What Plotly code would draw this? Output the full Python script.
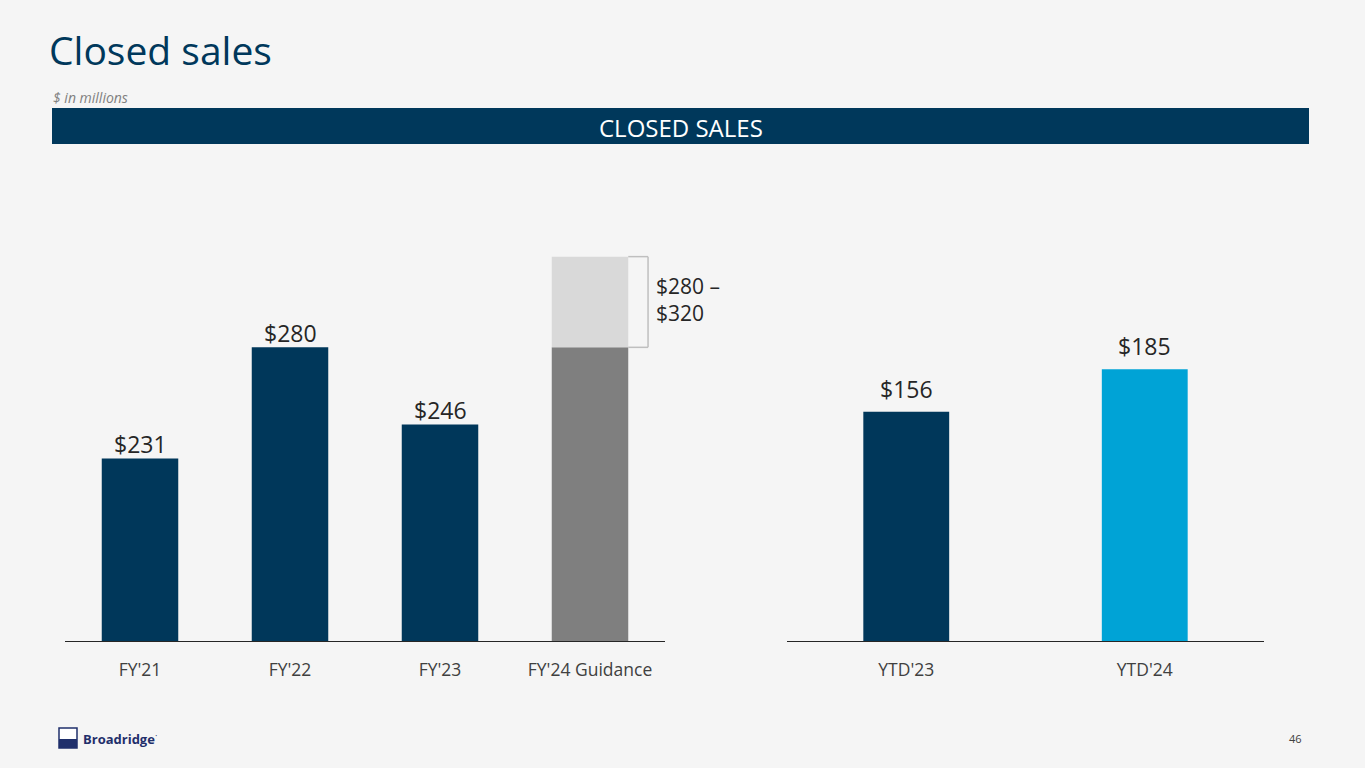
import plotly.graph_objects as go

# ---- data ----
fy_categories = ["FY'21", "FY'22", "FY'23", "FY'24 Guidance"]
fy_actuals = [231, 280, 246, None]
fy_actual_labels = ["$231", "$280", "$246", ""]
guidance_low = 280
guidance_high = 320
guidance_label = "$280 –<br>$320"

ytd_categories = ["YTD'23", "YTD'24"]
ytd_values = [156, 185]
ytd_labels = ["$156", "$185"]

# ---- style ----
W, H = 1365, 768
BG = "#F5F5F5"
NAVY = "#00375A"
CYAN = "#00A3D6"
GRAY = "#7F7F7F"
LIGHT = "#D9D9D9"
TXT = "#262626"
FONT = "Open Sans"

def px(xp):
    return xp / W

def py(yp):
    return 1 - yp / H

fig = go.Figure()

# Left chart: actuals
fig.add_trace(go.Bar(
    x=fy_categories, y=fy_actuals, width=0.51,
    marker=dict(color=NAVY, line=dict(width=0)),
    xaxis="x", yaxis="y", hoverinfo="skip",
))
# Guidance low part
fig.add_trace(go.Bar(
    x=[fy_categories[3]], y=[guidance_low], width=0.51,
    marker=dict(color=GRAY, line=dict(width=0)),
    xaxis="x", yaxis="y", hoverinfo="skip",
))
# Guidance range
fig.add_trace(go.Bar(
    x=[fy_categories[3]], y=[guidance_high - guidance_low], base=[guidance_low], width=0.51,
    marker=dict(color=LIGHT, line=dict(width=0)),
    xaxis="x", yaxis="y", hoverinfo="skip",
))

# Right chart: YTD
fig.add_trace(go.Bar(
    x=ytd_categories, y=ytd_values, width=0.36,
    marker=dict(color=[NAVY, CYAN], line=dict(width=0)),
    xaxis="x2", yaxis="y2", hoverinfo="skip",
))

y_dom = [py(641), py(170)]

fig.update_layout(
    width=W, height=H,
    paper_bgcolor=BG, plot_bgcolor=BG,
    margin=dict(l=0, r=0, t=0, b=0),
    barmode="overlay",
    showlegend=False,
    font=dict(family=FONT, color=TXT),
    xaxis=dict(domain=[px(65), px(665)], range=[-0.5, 3.5], showgrid=False, zeroline=False,
               showline=True, linecolor="#262626", linewidth=1,
               tickfont=dict(family=FONT, size=17.5, color="#404040"),
               ticks="", ticklabelstandoff=13, fixedrange=True),
    yaxis=dict(domain=y_dom, range=[150.5, 358.2], visible=False, fixedrange=True),
    xaxis2=dict(domain=[px(787), px(1264)], range=[-0.5, 1.5], showgrid=False, zeroline=False,
                showline=True, linecolor="#262626", linewidth=1,
                tickfont=dict(family=FONT, size=17.5, color="#404040"),
                ticks="", ticklabelstandoff=13, fixedrange=True, anchor="y2"),
    yaxis2=dict(domain=y_dom, range=[0, 320.6], visible=False, fixedrange=True, anchor="x2"),
)

shapes = []
# Banner
shapes.append(dict(type="rect", xref="paper", yref="paper",
                   x0=px(52), x1=px(1309), y0=py(144), y1=py(108),
                   fillcolor="#00385B", line=dict(width=0), layer="below"))
# Bracket around guidance range
bx0, bx1 = 3.255, 3.387
for (a, b, c, d) in [(bx0, guidance_high, bx1, guidance_high),
                     (bx1, guidance_high, bx1, guidance_low),
                     (bx0, guidance_low, bx1, guidance_low)]:
    shapes.append(dict(type="line", xref="x", yref="y", x0=a, y0=b, x1=c, y1=d,
                       line=dict(color="#BFBFBF", width=1.5)))
# Logo icon
shapes.append(dict(type="rect", xref="paper", yref="paper",
                   x0=px(59), x1=px(77), y0=py(748), y1=py(728),
                   fillcolor="white", line=dict(color="#1F2F6B", width=1.5)))
shapes.append(dict(type="rect", xref="paper", yref="paper",
                   x0=px(59), x1=px(77), y0=py(748), y1=py(739),
                   fillcolor="#1F2F6B", line=dict(width=0)))
fig.update_layout(shapes=shapes)

annotations = [
    dict(text="Closed sales", xref="paper", yref="paper", x=px(47), y=py(50),
         xanchor="left", yanchor="middle", showarrow=False,
         font=dict(family=FONT, size=39, color="#00385B")),
    dict(text="<i>$ in millions</i>", xref="paper", yref="paper", x=px(51), y=py(98),
         xanchor="left", yanchor="middle", showarrow=False,
         font=dict(family=FONT, size=14, color="#7F7F7F")),
    dict(text="CLOSED SALES", xref="paper", yref="paper", x=px(681), y=py(127),
         xanchor="center", yanchor="middle", showarrow=False,
         font=dict(family=FONT, size=24, color="white")),
    dict(text=guidance_label, xref="x", yref="y", x=bx1, y=(guidance_low + guidance_high) / 2,
         xanchor="left", yanchor="middle", xshift=6, yshift=2, showarrow=False, align="left",
         font=dict(family=FONT, size=21, color=TXT)),
    dict(text="<b>Broadridge</b><sup>·</sup>", xref="paper", yref="paper", x=px(81), y=py(738),
         xanchor="left", yanchor="middle", showarrow=False,
         font=dict(family=FONT, size=13, color="#1F2F6B")),
    dict(text="46", xref="paper", yref="paper", x=px(1304), y=py(738),
         xanchor="right", yanchor="middle", showarrow=False,
         font=dict(family=FONT, size=11, color="#404040")),
]
# Value labels on top of bars
for cat, val, lab in zip(fy_categories, fy_actuals, fy_actual_labels):
    if val is not None and lab:
        annotations.append(dict(text=lab, xref="x", yref="y", x=cat, y=val,
                                xanchor="center", yanchor="bottom", yshift=-4, showarrow=False,
                                font=dict(family=FONT, size=23, color=TXT)))
for cat, val, lab in zip(ytd_categories, ytd_values, ytd_labels):
    annotations.append(dict(text=lab, xref="x2", yref="y2", x=cat, y=val,
                            xanchor="center", yanchor="bottom", yshift=5, showarrow=False,
                            font=dict(family=FONT, size=23, color=TXT)))
fig.update_layout(annotations=annotations)

fig.write_html("out.html", config={"displayModeBar": False},
               post_script="document.body.style.margin='0';")
